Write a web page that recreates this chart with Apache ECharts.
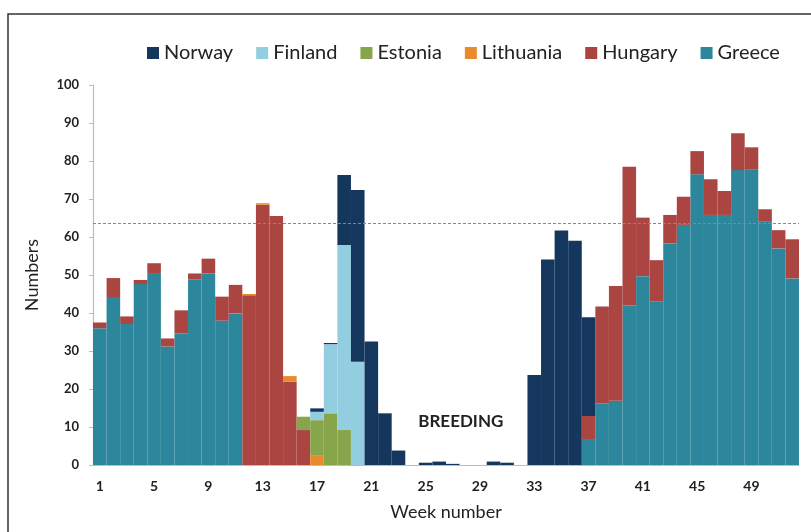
<!DOCTYPE html>
<html>
<head>
<meta charset="utf-8">
<script src="https://cdn.jsdelivr.net/npm/echarts@6/dist/echarts.min.js"></script>
<style>
  html, body { margin: 0; padding: 0; background: #fff; }
  #chart { width: 811px; height: 532px; }
</style>
</head>
<body>
<div id="chart"></div>
<script>
// week numbers 1..52
const weeks = ['1','2','3','4','5','6','7','8','9','10','11','12','13','14','15','16','17','18','19','20','21','22','23','24','25','26',
  '27','28','29','30','31','32','33','34','35','36','37','38','39','40','41','42','43','44','45','46','47','48','49','50','51','52']

const greece = [36, 44.2, 37.1, 47.6, 50.3, 31.2, 34.7, 48.9, 50.4, 38, 39.9, 0, 0, 0, 0, 0, 0, 0, 0, 0, 0, 0, 0, 0, 0, 0,
  0, 0, 0, 0, 0, 0, 0, 0, 0, 0, 6.6, 16.2, 16.9, 42, 49.7, 43, 58.3, 63.2, 76.5, 65.8, 65.8, 77.6, 77.8, 64, 57, 49.1]
const hungary = [1.5, 5, 2, 1.1, 2.8, 2.1, 6, 1.5, 3.9, 6.3, 7.5, 44.7, 68.5, 65.5, 21.9, 9.2, 0, 0, 0, 0, 0, 0, 0, 0, 0, 0,
  0, 0, 0, 0, 0, 0, 0, 0, 0, 0, 6.3, 25.5, 30.2, 36.5, 15.4, 10.9, 7.5, 7.4, 6.1, 9.4, 6.3, 9.7, 5.8, 3.3, 4.8, 10.3]
const lithuania = [0, 0, 0, 0, 0, 0, 0, 0, 0, 0, 0, 0.3, 0.4, 0, 1.5, 0, 2.6, 0, 0, 0, 0, 0, 0, 0, 0, 0,
  0, 0, 0, 0, 0, 0, 0, 0, 0, 0, 0, 0, 0, 0, 0, 0, 0, 0, 0, 0, 0, 0, 0, 0, 0, 0]
const estonia = [0, 0, 0, 0, 0, 0, 0, 0, 0, 0, 0, 0, 0, 0, 0, 3.5, 9.2, 13.6, 9.2, 0, 0, 0, 0, 0, 0, 0,
  0, 0, 0, 0, 0, 0, 0, 0, 0, 0, 0, 0, 0, 0, 0, 0, 0, 0, 0, 0, 0, 0, 0, 0, 0, 0]
const finland = [0, 0, 0, 0, 0, 0, 0, 0, 0, 0, 0, 0, 0, 0, 0, 0, 2.2, 18.2, 48.7, 27.2, 0, 0, 0, 0, 0, 0,
  0, 0, 0, 0, 0, 0, 0, 0, 0, 0, 0, 0, 0, 0, 0, 0, 0, 0, 0, 0, 0, 0, 0, 0, 0, 0]
const norway = [0, 0, 0, 0, 0, 0, 0, 0, 0, 0, 0, 0, 0, 0, 0, 0, 0.9, 0.3, 18.4, 45.2, 32.5, 13.6, 3.8, 0, 0.6, 0.9,
  0.3, 0, 0, 0.9, 0.6, 0, 23.7, 54.1, 61.7, 59, 26, 0, 0, 0, 0, 0, 0, 0, 0, 0, 0, 0, 0, 0, 0, 0]

const thresholdLine = 63.6
const fontFamily = 'Lato, "Open Sans", sans-serif'

const chart = echarts.init(document.getElementById('chart'))

const makeSeries = (name, data, color) => ({
  name,
  type: 'bar',
  stack: 'all',
  data,
  barWidth: '100%',
  barCategoryGap: 0,
  itemStyle: { color },
  emphasis: { disabled: true }
})

const greeceSeries = makeSeries('Greece', greece, '#2c869c')
greeceSeries.markLine = {
  silent: true,
  symbol: 'none',
  label: { show: false },
  lineStyle: { color: '#7f8896', type: [3, 2], width: 1.2 },
  data: [{ yAxis: thresholdLine }]
}
greeceSeries.markPoint = {
  silent: true,
  symbol: 'rect',
  symbolSize: 0,
  data: [{ coord: ['27', 11.5] }],
  label: {
    show: true,
    formatter: 'BREEDING',
    color: '#222',
    fontSize: 17,
    fontWeight: 'bold',
    fontFamily,
    offset: [8, 0]
  }
}

chart.setOption({
  animation: false,
  textStyle: { fontFamily },
  graphic: [
    {
      type: 'rect',
      shape: { x: 8, y: 14, width: 900, height: 600 },
      style: { fill: 'none', stroke: '#333', lineWidth: 1.5 },
      silent: true
    }
  ],
  legend: {
    top: 38,
    left: 142,
    itemWidth: 12,
    itemHeight: 12,
    itemGap: 23,
    icon: 'rect',
    textStyle: { fontSize: 20, color: '#222', fontFamily },
    data: ['Norway', 'Finland', 'Estonia', 'Lithuania', 'Hungary', 'Greece']
  },
  grid: { left: 93, right: 12, top: 85, bottom: 67 },
  xAxis: {
    type: 'category',
    data: weeks,
    name: 'Week number',
    nameLocation: 'middle',
    nameGap: 38,
    nameTextStyle: { fontSize: 18, color: '#222' },
    axisLine: { lineStyle: { color: '#bdbdbd', width: 1.2 } },
    axisTick: { interval: 0, length: 4, lineStyle: { color: '#bdbdbd' } },
    axisLabel: { interval: 3, color: '#222', fontSize: 14, fontWeight: 'bold', margin: 14 }
  },
  yAxis: {
    type: 'value',
    min: 0,
    max: 100,
    interval: 10,
    name: 'Numbers',
    nameLocation: 'middle',
    nameGap: 52,
    nameTextStyle: { fontSize: 18, color: '#222' },
    splitLine: { show: false },
    axisLine: { show: true, lineStyle: { color: '#bdbdbd', width: 1.2 } },
    axisTick: { show: true, length: 4, lineStyle: { color: '#bdbdbd' } },
    axisLabel: { color: '#222', fontSize: 13, fontWeight: 'bold', margin: 14 }
  },
  series: [
    greeceSeries,
    makeSeries('Hungary', hungary, '#ab4542'),
    makeSeries('Lithuania', lithuania, '#e98a2c'),
    makeSeries('Estonia', estonia, '#87a54b'),
    makeSeries('Finland', finland, '#93cde0'),
    makeSeries('Norway', norway, '#15365d')
  ]
})
</script>
</body>
</html>
